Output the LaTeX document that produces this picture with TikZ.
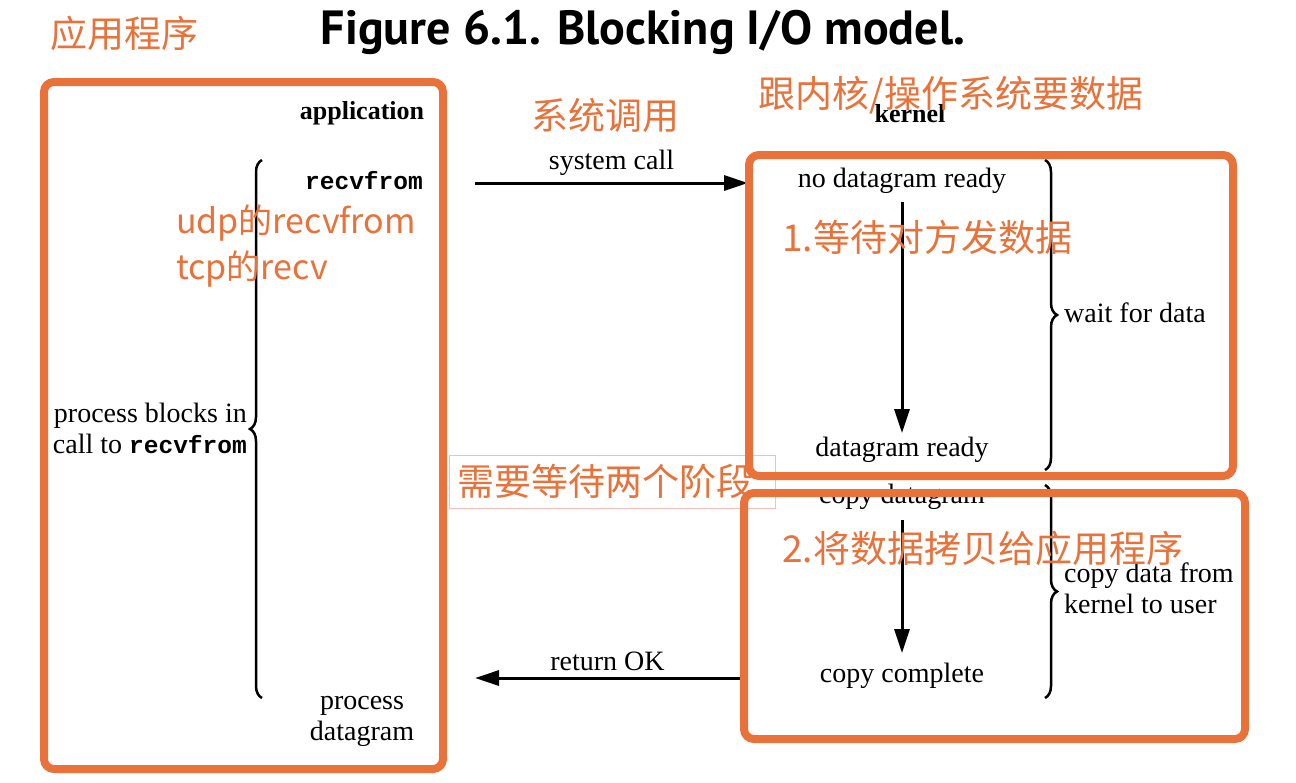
\documentclass[tikz,border=0pt]{standalone}
\usepackage{fontspec}
\setmainfont{Liberation Serif}
\newfontfamily\monofont{Liberation Mono}
\newfontfamily\titlefont{PT Sans}
\newfontfamily\cjk{Noto Sans CJK SC}
\usetikzlibrary{arrows.meta,decorations.pathreplacing}
\definecolor{annot}{RGB}{233,113,58}
\definecolor{annotbox}{RGB}{245,190,185}
\tikzset{
  plain/.style={inner sep=0pt, font=\fontsize{28}{31}\selectfont},
  boldtext/.style={plain, font=\fontsize{26}{30}\selectfont\bfseries},
  monotext/.style={inner sep=0pt, font=\fontsize{24.5}{30}\selectfont\monofont\bfseries},
  flow/.style={line width=3pt, -{Triangle[length=24pt,width=15pt]}},
  bracket/.style={line width=2.5pt, decorate, decoration={brace, amplitude=12pt}},
  phase/.style={draw=annot, line width=8pt, rounded corners=10pt},
  note/.style={inner sep=0pt, text=annot, font=\fontsize{37}{44}\selectfont\cjk},
  smallnote/.style={note, font=\fontsize{34}{46}\selectfont\cjk}
}
\newcommand\recvname{{\fontsize{24.5}{31}\selectfont\monofont\bfseries recvfrom}}
\begin{document}
\begin{tikzpicture}[x=1pt,y=-1pt]
\useasboundingbox (0,0) rectangle (1296,782);

% Title
\node[inner sep=0pt, font=\fontsize{48}{50}\selectfont\titlefont\bfseries] (title) at (643,32) {Figure 6.1. Blocking I/O model.};

% Application side
\node[boldtext] (app) at (362,113) {application};
\node[monotext] (recv) at (364,181) {recvfrom};
\node[plain, anchor=east, align=right] (blocks) at (247,428) {process blocks in\\call to \recvname};
\node[plain, align=center] (procdg) at (362,721) {process\\datagram};

% Brace over the blocking time
\coordinate (appbot) at (262,698);
\coordinate (apptop) at (262,160);
\draw[bracket] (appbot) -- (apptop);

% Kernel side
\node[boldtext] (kernel) at (910,114) {kernel};
\node[plain] (nodg) at (902,181) {no datagram ready};
\node[plain] (dgready) at (902,450) {datagram ready};
\node[plain] (copydg) at (902,497) {copy datagram};
\node[plain] (copydone) at (902,676) {copy complete};
\node[plain, anchor=west] (wait) at (1064,313) {wait for data};
\node[plain, anchor=west, align=left] (copyuser) at (1064,588) {copy data from\\kernel to user};

% Braces of the two phases
\coordinate (waittop) at (1045,160);
\coordinate (waitbot) at (1045,470);
\draw[bracket] (waittop) -- (waitbot);
\coordinate (copytop) at (1045,485);
\coordinate (copybot) at (1045,698);
\draw[bracket] (copytop) -- (copybot);

% Arrows
\coordinate (callfrom) at (475,183);
\coordinate (callto) at (748,183);
\draw[flow] (callfrom) -- node[plain, above=6pt] (calllabel) {system call} (callto);
\draw[flow, shorten <=8pt, shorten >=4pt] (nodg.south) -- (dgready.north);
\draw[flow, shorten <=10pt, shorten >=10pt] (copydg.south) -- (copydone.north);
\coordinate (okfrom) at (740,678);
\coordinate (okto) at (475,678);
\draw[flow] (okfrom) -- node[plain, above=6pt] (oklabel) {return OK} (okto);

% Annotation box
\node[draw=annotbox, line width=1pt, fill=white, minimum width=326pt, minimum height=53pt, anchor=north west, inner sep=0pt] (twobox) at (449,455) {};
\node[note, anchor=west] (twophase) at (457,481) {需要等待两个阶段};

% Annotation frames
\draw[phase] (44,82) rectangle (443,769);
\draw[phase] (749,155) rectangle (1233,476);
\draw[phase] (744,493) rectangle (1245,739);

% Annotation texts
\node[note, anchor=west] (napp) at (50,33) {应用程序};
\node[smallnote, anchor=north west, align=left] (nudp) at (176,205) {udp的recvfrom\\tcp的recv};
\node[note] (ncall) at (605,115) {系统调用};
\node[note] (nask) at (951,95) {跟内核/操作系统要数据};
\node[note, anchor=west] (nwait) at (782,237) {1.等待对方发数据};
\node[note, anchor=west] (ncopy) at (782,548) {2.将数据拷贝给应用程序};
\end{tikzpicture}
\end{document}
